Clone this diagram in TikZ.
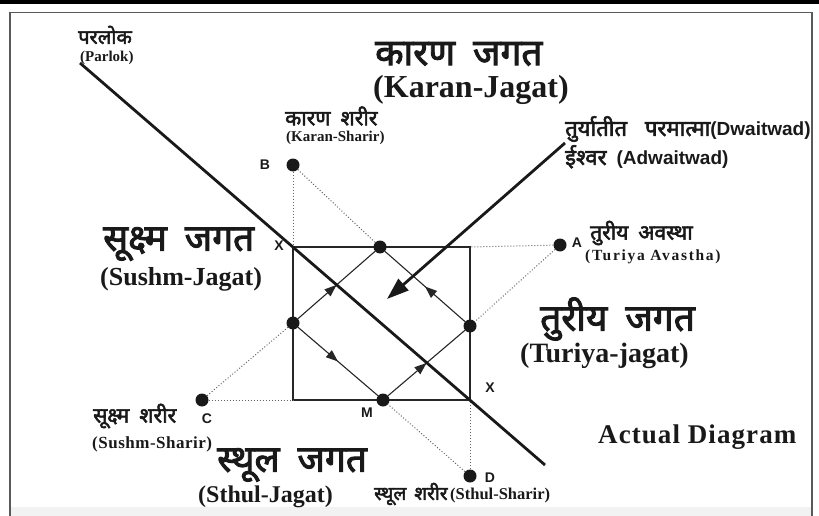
\documentclass[tikz,border=0pt]{standalone}
\usepackage{fontspec}
\setmainfont{Liberation Serif}
\newfontfamily\dev[Script=Devanagari,FakeBold=2.6]{Noto Sans}
\newfontfamily\lsans{Liberation Sans}
\usetikzlibrary{arrows.meta,decorations.markings}
\newcommand\fsz[1]{\fontsize{#1}{#1}\selectfont}
\begin{document}
\begin{tikzpicture}[x=1pt,y=-1pt,
  dot/.style={circle,fill=black!90,inner sep=0pt,minimum size=13pt},
  thickline/.style={line width=2.8pt,black!90},
  diam/.style={line width=1.1pt,black!85},
  dots/.style={dotted,line width=1pt,black!60},
  midarrow/.style={postaction={decorate},decoration={markings,mark=at position 0.5 with {\arrow{Triangle[length=12pt,width=9pt]}}}},
  txt/.style={inner sep=0pt,anchor=west,text=black!90},
  devh/.style={txt,font=\dev\fsz{37}},
  devs/.style={txt,font=\dev\fsz{21}},
  latb/.style={txt,font=\bfseries\fsz{26}},
  lats/.style={txt,font=\bfseries\fsz{15}},
  lab/.style={inner sep=0pt,font=\lsans\bfseries\fsz{14},text=black!90}
]
\useasboundingbox (0,0) rectangle (819,516);
\fill[black!5] (10,507) rectangle (812,516);
\fill[black] (0,0) rectangle (819,4);
\draw[black!65,line width=1.5pt] (10,516) -- (10,12.5) -- (812,12.5) -- (812,516);

% rectangle corners
\coordinate (TL) at (293,247);
\coordinate (TR) at (470,247);
\coordinate (BR) at (470,400);
\coordinate (BL) at (293,400);
\draw[diam] (TL) rectangle (BR);

% outer dots
\node[dot] (B) at (293,165) {};
\node[dot] (A) at (560,245) {};
\node[dot] (C) at (202,400) {};
\node[dot] (D) at (470,476) {};

% diamond dots
\node[dot] (T) at (380,247) {};
\node[dot] (R) at (470,326) {};
\node[dot] (M) at (383,400) {};
\node[dot] (L) at (293,323) {};

% dotted connectors
\draw[dots] (B) -- (TL);
\draw[dots] (B) -- (T);
\draw[dots] (A) -- (TR);
\draw[dots] (A) -- (R);
\draw[dots] (C) -- (BL);
\draw[dots] (C) -- (L);
\draw[dots] (D) -- (BR);
\draw[dots] (D) -- (M);

% diamond edges
\draw[diam,midarrow] (L) -- (T);
\draw[diam,midarrow] (L) -- (M);
\draw[diam,midarrow] (M) -- (R);
\draw[diam,midarrow] (R) -- (T);

% thick lines
\coordinate (P1) at (80,63);
\coordinate (P2) at (545,465);
\draw[thickline] (P1) -- (P2);
\coordinate (Q1) at (565,143);
\coordinate (Q2) at (387,299);
\draw[thickline,-{Triangle[length=22pt,width=15pt]}] (Q1) -- (Q2);

% labels
\node[txt,font=\dev\fsz{20}] (parlokd) at (78,35) {परलोक};
\node[lats] (parlok) at (80,58) {(Parlok)};

\node[devh] (karanj) at (375,54) {कारण\hspace{18pt}जगत};
\node[txt,font=\bfseries\fsz{32}] (karanjl) at (373,90) {(Karan-Jagat)};

\node[devs] (karans) at (285,116) {कारण\hspace{10pt}शरीर};
\node[lats] (karansl) at (286,138) {(Karan-Sharir)};

\node[lab] (Blab) at (265,165) {B};
\node[lab] (Alab) at (577,243) {A};
\node[lab] (Clab) at (207,419) {C};
\node[lab] (Dlab) at (490,478) {D};
\node[lab] (Mlab) at (367,413) {M};
\node[lab] (X1) at (279,246) {X};
\node[lab] (X2) at (490,388) {X};

\node[txt,font=\dev\fsz{22}] (turyat) at (565,129) {तुर्यातीत\hspace{18pt}परमात्मा{\lsans\bfseries\fsz{19}(Dwaitwad)}};
\node[txt,font=\dev\fsz{22}] (ishwar) at (565,157) {ईश्वर\hspace{10pt}{\lsans\bfseries\fsz{19}(Adwaitwad)}};

\node[devh] (sushmj) at (103,244) {सूक्ष्म\hspace{18pt}जगत};
\node[latb] (sushmjl) at (100,279) {(Sushm-Jagat)};

\node[devs] (turiyaa) at (590,233) {तुरीय\hspace{10pt}अवस्था};
\node[txt,font=\bfseries\fsz{15.5}\addfontfeatures{LetterSpace=11}] (turiyaal) at (585,257) {(Turiya Avastha)};

\node[txt,font=\dev\fsz{37}] (turiyaj) at (540,319) {तुरीय\hspace{18pt}जगत};
\node[txt,font=\bfseries\fsz{28}] (turiyajl) at (520,356) {(Turiya-jagat)};

\node[txt,font=\bfseries\fsz{27}\addfontfeatures{LetterSpace=4}] (actual) at (598,437) {Actual Diagram};

\node[devs] (sushms) at (93,416) {सूक्ष्म\hspace{10pt}शरीर};
\node[txt,font=\bfseries\fsz{17}\addfontfeatures{LetterSpace=3}] (sushmsl) at (92,444) {(Sushm-Sharir)};

\node[devh] (sthulj) at (217,465) {स्थूल\hspace{18pt}जगत};
\node[txt,font=\bfseries\fsz{24}] (sthuljl) at (198,497) {(Sthul-Jagat)};

\node[txt,font=\dev\fsz{19}] (sthuls) at (374,494) {स्थूल\hspace{8pt}शरीर};
\node[txt,font=\bfseries\fsz{16.5}] (sthulsl) at (450,496) {(Sthul-Sharir)};
\end{tikzpicture}
\end{document}
